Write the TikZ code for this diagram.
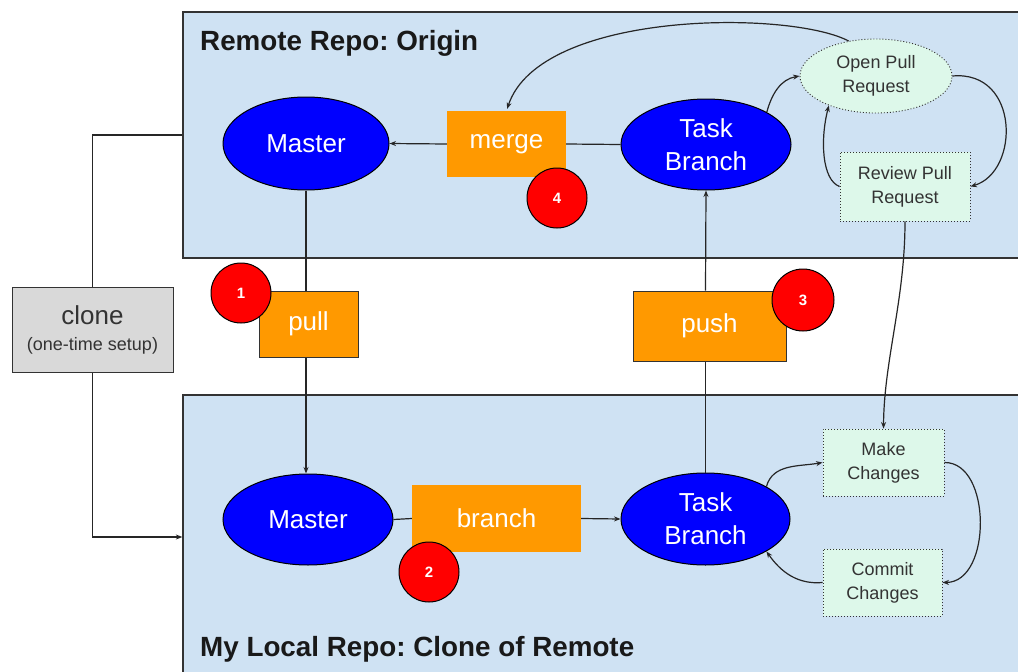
\documentclass[tikz,border=0pt]{standalone}
\usepackage{fontspec}
\setmainfont{Liberation Sans}
\frenchspacing
\usetikzlibrary{shapes.geometric,arrows.meta}
\definecolor{repofill}{HTML}{CFE2F3}
\definecolor{repoline}{HTML}{333333}
\definecolor{nodeblue}{HTML}{0000FF}
\definecolor{actorange}{HTML}{FF9900}
\definecolor{stepred}{HTML}{FF0000}
\definecolor{mintfill}{HTML}{DDF8EA}
\definecolor{clonefill}{HTML}{D9D9D9}
\definecolor{darktext}{HTML}{333333}
\tikzset{
  repo/.style={draw=repoline, line width=1.3pt, fill=repofill, rectangle, inner sep=0pt},
  branchnode/.style={ellipse, draw=black, line width=1pt, fill=nodeblue, text=white, inner sep=0pt,
     align=center, font=\fontsize{26}{33}\selectfont},
  action/.style={rectangle, fill=actorange, text=white, inner sep=0pt, font=\fontsize{26}{30}\selectfont},
  actionb/.style={action, draw=repoline, line width=1pt},
  badge/.style={circle, draw=black, line width=1pt, fill=stepred, text=white, inner sep=0pt,
     minimum size=60pt, font=\bfseries\fontsize{15}{18}\selectfont},
  review/.style={rectangle, draw=darktext, line width=0.9pt, dash pattern=on 1pt off 2pt, fill=mintfill,
     text=darktext, inner sep=0pt, align=center, font=\fontsize{18}{24}\selectfont},
  conn/.style={draw=black!85, line width=1.2pt},
  arr/.style={conn, -{Stealth[length=6.5pt,width=5pt]}},
  title/.style={anchor=west, inner sep=0pt, font=\bfseries\fontsize{27.8}{32}\selectfont, text=black!90}
}
\begin{document}
\begin{tikzpicture}[x=1pt,y=-1pt]
\clip (0,0) rectangle (1018,672);
\fill[white] (0,0) rectangle (1018,672);
% repo boxes
\node[repo, minimum width=837pt, minimum height=246pt] (remote) at (601.5,135) {};
\node[repo, minimum width=837pt, minimum height=284pt] (local) at (601.5,537) {};
\node[title] (remotetitle) at (200,43) {Remote Repo: Origin};
\node[title] (localtitle) at (200,649) {My Local Repo: Clone of Remote};
% clone
\node[rectangle, draw=repoline, line width=1pt, fill=clonefill, text=darktext, minimum width=161pt,
  minimum height=85pt, inner sep=0pt, align=center, font=\fontsize{18}{26}\selectfont] (clone) at (92.5,330)
  {{\fontsize{26}{28}\selectfont clone}\\(one-time setup)};
% branch ellipses
\node[branchnode, minimum width=166pt, minimum height=93pt] (rmaster) at (306,143.5) {Master};
\node[branchnode, minimum width=170pt, minimum height=91pt] (rtb) at (706,144.5) {Task\\Branch};
\node[branchnode, minimum width=170pt, minimum height=91pt] (lmaster) at (308,519.5) {Master};
\node[branchnode, minimum width=169pt, minimum height=92pt] (ltb) at (705.5,519) {Task\\Branch};
% actions
\node[action, minimum width=119pt, minimum height=66pt] (merge) at (506.5,144) {merge};
\node[action, minimum width=169pt, minimum height=67pt] (branch) at (496.5,518.5) {branch};
\node[actionb, minimum width=99pt, minimum height=66pt] (pull) at (308.5,324) {pull};
\node[actionb, minimum width=153pt, minimum height=70pt] (push) at (709.5,326) {push};
% review nodes
\node[review, ellipse, minimum width=152pt, minimum height=74pt] (opr) at (876,76) {Open Pull\\Request};
\node[review, minimum width=130pt, minimum height=69pt] (rpr) at (905,186.5) {Review Pull\\Request};
\node[review, minimum width=121pt, minimum height=67pt] (make) at (883.5,462.5) {Make\\Changes};
\node[review, minimum width=119pt, minimum height=67pt] (commit) at (882.5,582.5) {Commit\\Changes};
% connectors
\draw[conn] (clone.north) |- (remote.west);
\draw[arr] (clone.south) |- (local.west);
\draw[conn] (rmaster.south) -- (rmaster.south |- pull.north);
\draw[arr] (rmaster.south |- pull.south) -- (lmaster.north -| rmaster.south);
\draw[conn] (lmaster.east) -- (branch.west);
\draw[arr] (branch.east) -- (ltb.west);
\draw[conn] (ltb.north) -- (ltb.north |- push.south);
\draw[arr] (ltb.north |- push.north) -- (rtb.south);
\draw[conn] (rtb.west) -- (merge.east);
\draw[arr] (merge.west) -- (rmaster.east);
\draw[arr, shorten >=2pt] (opr.128) .. controls (790,10) and (540,10) .. (merge.north);
\draw[arr] (rtb.28) to[out=75,in=190] (opr.west);
\draw[arr] (opr.east) .. controls (1020,70) and (1020,172) .. (rpr.east);
\draw[arr] (rpr.west) .. controls (822,180) and (820,140) .. (opr.212);
\draw[arr] (rpr.south) .. controls (905,300) and (884,360) .. (make.north);
\draw[arr] (ltb.28) to[out=75,in=190] (make.west);
\draw[arr] (make.east) .. controls (992,462) and (992,582) .. (commit.east);
\draw[arr] (commit.west) to[out=185,in=-55] (ltb.-28);
% badges
\node[badge] (b1) at (241,293) {1};
\node[badge] (b2) at (429,572) {2};
\node[badge, minimum size=62pt] (b3) at (803,300) {3};
\node[badge] (b4) at (557,198) {4};
\end{tikzpicture}
\end{document}
